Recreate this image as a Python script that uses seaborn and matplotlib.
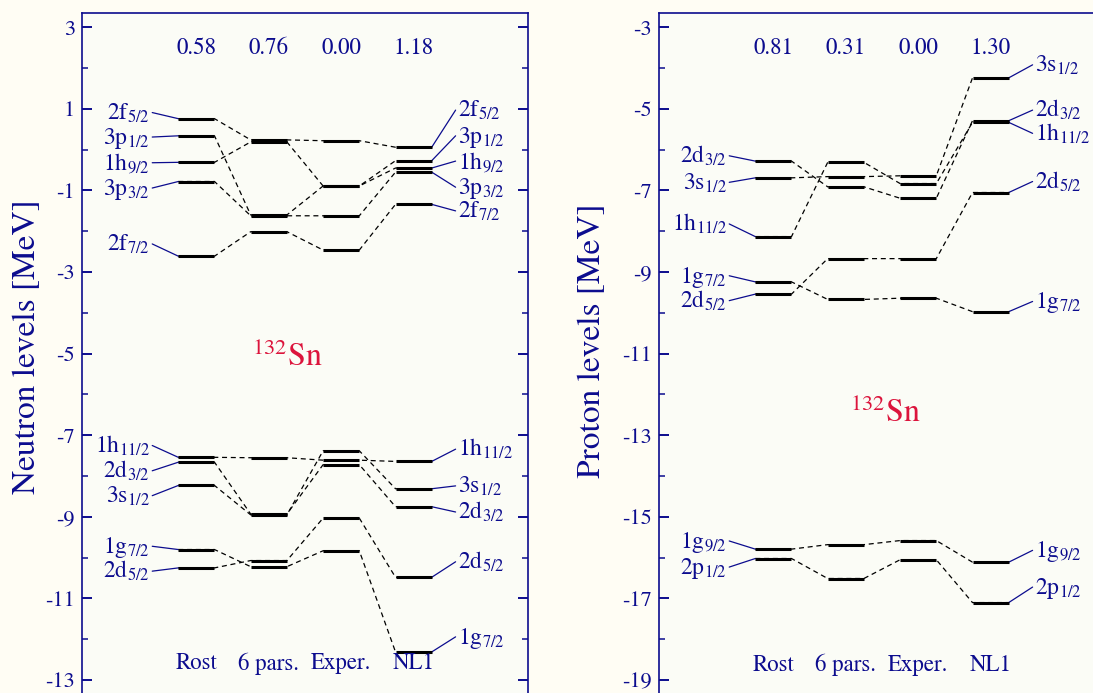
import numpy as np
import pandas as pd
import matplotlib
matplotlib.use('Agg')
import matplotlib.pyplot as plt
import seaborn as sns

# %% Data (single-particle energies in MeV)

columns = ['Rost', '6 pars.', 'Exper.', 'NL1']

neutron_orbitals = ['2f5/2', '3p1/2', '1h9/2', '3p3/2', '2f7/2',
                    '1h11/2', '2d3/2', '3s1/2', '1g7/2', '2d5/2']
neutron_rost = [0.76, 0.34, -0.31, -0.78, -2.61, -7.54, -7.66, -8.23, -9.80, -10.25]
neutron_6pars = [0.24, -1.60, 0.19, -1.62, -2.01, -7.55, -8.93, -8.95, -10.22, -10.07]
neutron_exper = [0.22, -0.89, -0.89, -1.62, -2.46, -7.61, -7.72, -7.38, -9.83, -9.03]
neutron_nl1 = [0.06, -0.27, -0.45, -0.55, -1.34, -7.64, -8.75, -8.31, -12.31, -10.48]
neutron_rms = ['0.58', '0.76', '0.00', '1.18']

proton_orbitals = ['2d3/2', '3s1/2', '1h11/2', '1g7/2', '2d5/2', '1g9/2', '2p1/2']
proton_rost = [-6.28, -6.69, -8.13, -9.24, -9.54, -15.79, -16.02]
proton_6pars = [-6.91, -6.66, -6.31, -9.67, -8.67, -15.68, -16.51]
proton_exper = [-7.19, -6.64, -6.83, -9.64, -8.67, -15.58, -16.05]
proton_nl1 = [-5.29, -4.24, -5.33, -9.97, -7.05, -16.11, -17.10]
proton_rms = ['0.81', '0.31', '0.00', '1.30']

# where the orbital names sit (left of Rost, right of NL1)
neutron_left_label_y = [0.91, 0.31, -0.32, -0.94, -2.31, -7.25, -7.87, -8.48, -9.72, -10.33]
neutron_right_label_y = [0.97, 0.34, -0.28, -0.92, -1.50, -7.34, -8.88, -8.24, -11.94, -10.10]
proton_left_label_y = [-6.15, -6.80, -7.82, -9.09, -9.70, -15.59, -16.23]
proton_right_label_y = [-5.03, -3.92, -5.60, -9.72, -6.78, -15.82, -16.72]

# %% Set-up

sns.set_style('ticks')
plt.rcParams['font.family'] = ['STIXGeneral', 'DejaVu Serif']
plt.rcParams['mathtext.fontset'] = 'stix'
plt.rcParams['axes.unicode_minus'] = False

navy = '#0c0c8e'
red = '#dc143c'
bgFig = '#fffdf4'
bgAx = '#fbfcf6'
halfW = 0.25


def orbLabel(name):
    return name[:2] + '$_{' + name[2:] + '}$'


def drawPanel(ax, orbitals, levels, rms, leftY, rightY, ylim, major, minor,
              rmsY, colY, snXY):
    #Long table: both ends of every level bar, per orbital
    rows = []
    for orb, vals in zip(orbitals, zip(*levels)):
        for i, v in enumerate(vals):
            rows.append({'orbital': orb, 'x': i - halfW, 'E': v})
            rows.append({'orbital': orb, 'x': i + halfW, 'E': v})
    df = pd.DataFrame(rows)

    #Dashed connectors through seaborn
    sns.lineplot(data=df, x='x', y='E', units='orbital', estimator=None,
                 sort=False, color='black', lw=0.9, ls=(0, (4, 3)),
                 ax=ax, zorder=2)

    #Solid level bars
    for i, vals in enumerate(levels):
        ax.hlines(vals, i - halfW, i + halfW, color='black', lw=2.2, zorder=3)

    #Orbital names with connector lines
    first, last = levels[0], levels[-1]
    for orb, yl, yr, v0, v3 in zip(orbitals, leftY, rightY, first, last):
        ax.plot([-0.61, -halfW], [yl, v0], color=navy, lw=0.9, zorder=2)
        ax.annotate(orbLabel(orb), xy=(-0.64, yl), xytext=(0, -5),
                    textcoords='offset points', ha='right', va='baseline',
                    color=navy, fontsize=17)
        ax.plot([3 + halfW, 3.58], [v3, yr], color=navy, lw=0.9, zorder=2)
        ax.annotate(orbLabel(orb), xy=(3.61, yr), xytext=(0, -5),
                    textcoords='offset points', ha='left', va='baseline',
                    color=navy, fontsize=17)

    #rms deviations and column names
    for i, (r, c) in enumerate(zip(rms, columns)):
        ax.text(i, rmsY, r, ha='center', va='center', color=navy, fontsize=16.5)
        ax.text(i, colY, c, ha='center', va='center', color=navy, fontsize=16.5)

    ax.text(snXY[0], snXY[1], r'$^{132}$Sn', ha='center', va='center',
            color=red, fontsize=23)

    #Axes styling
    ax.set_xlim(-1.58, 4.58)
    ax.set_ylim(ylim)
    ax.set_xticks([])
    ax.set_yticks(major)
    ax.set_yticks(minor, minor=True)
    ax.set_yticklabels([str(t) for t in major])
    ax.set_xlabel('')
    ax.set_ylabel('')
    ax.tick_params(which='both', direction='in', left=True, right=True,
                   color=navy, labelcolor=navy, labelsize=16)
    ax.tick_params(which='major', length=7, width=1.4, pad=5)
    ax.tick_params(which='minor', length=4, width=1.1)
    for side in ['left', 'right', 'top']:
        ax.spines[side].set_color(navy)
        ax.spines[side].set_linewidth(1.2)
        ax.spines[side].set_visible(True)
    ax.spines['bottom'].set_visible(False)
    ax.set_facecolor(bgAx)


# %% Figure

fig = plt.figure(figsize=(10.93, 6.93), dpi=100)
fig.patch.set_facecolor(bgFig)

axN = fig.add_axes([82 / 1093, -7.5 / 693, 446 / 1093, 687.5 / 693])
axP = fig.add_axes([659 / 1093, -7.5 / 693, 446 / 1093, 687.5 / 693])

drawPanel(axN, neutron_orbitals,
          [neutron_rost, neutron_6pars, neutron_exper, neutron_nl1],
          neutron_rms, neutron_left_label_y, neutron_right_label_y,
          (-13.5, 3.35), np.arange(-13, 4, 2), np.arange(-12, 3, 2),
          2.49, -12.6, (1.25, -5.1))

drawPanel(axP, proton_orbitals,
          [proton_rost, proton_6pars, proton_exper, proton_nl1],
          proton_rms, proton_left_label_y, proton_right_label_y,
          (-19.5, -2.65), np.arange(-19, -2, 2), np.arange(-18, -3, 2),
          -3.51, -18.63, (1.55, -12.47))

fig.text(27 / 1093, 1 - 347 / 693, 'Neutron levels [MeV]', rotation=90,
         ha='center', va='center', color=navy, fontsize=24)
fig.text(592 / 1093, 1 - 341 / 693, 'Proton levels [MeV]', rotation=90,
         ha='center', va='center', color=navy, fontsize=24)

fig.savefig('out.png', dpi=100, facecolor=fig.get_facecolor())
